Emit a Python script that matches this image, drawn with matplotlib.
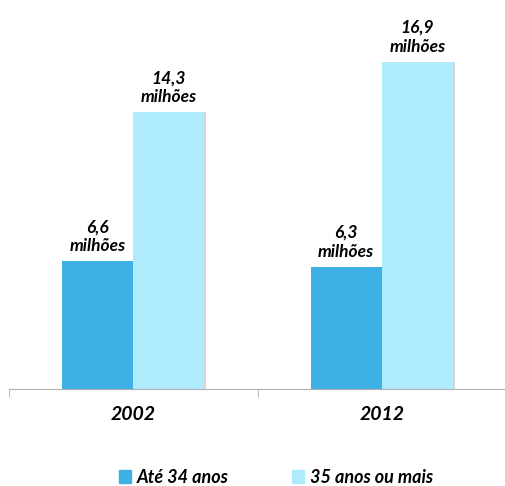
import numpy as np
import matplotlib.pyplot as plt
from matplotlib.patches import Patch

anos = ["2002", "2012"]
series = ["Até 34 anos", "35 anos ou mais"]
ate_34 = [6.6, 6.3]
mais_35 = [14.3, 16.9]
cores = ["#3DB0E5", "#AEEBFC"]

plt.rcParams['font.family'] = ['Lato', 'DejaVu Sans']
peso = "bold"

fig = plt.figure(figsize=(5.06, 4.86), dpi=100)
ax = fig.add_axes([9 / 506, 97 / 486, 497 / 506, 370 / 486])

x = np.arange(len(anos))
w = 0.286
for i, (vals, cor) in enumerate(zip([ate_34, mais_35], cores)):
    pos = x + (i - 0.5) * w
    # sombra leve à direita das barras
    ax.bar(pos + 0.008, vals, w, color="#d6d6d6", zorder=1)
    ax.bar(pos, vals, w, color=cor, zorder=2)
    for p, v in zip(pos, vals):
        ax.annotate(f"{v:.1f}".replace(".", ",") + "\nmilhões", (p, v),
                    xytext=(0, 5), textcoords="offset points",
                    ha="center", va="bottom", fontsize=12.5,
                    fontweight=peso, style="italic", linespacing=1.25)

ax.set_xlim(-0.5, -0.5 + 497 / 252)
ax.set_ylim(0, 370 / 19.35)
ax.set_xticks(x)
ax.set_xticklabels(anos, fontsize=14, fontweight=peso, style="italic")
ax.set_xticks([-0.5, 0.5, 1.5], minor=True)
ax.tick_params(axis="x", which="major", length=0, pad=12)
ax.tick_params(axis="x", which="minor", length=6, color="#b0b0b0")
ax.set_yticks([])
for s in ["top", "right", "left"]:
    ax.spines[s].set_visible(False)
ax.spines["bottom"].set_color("#b0b0b0")

handles = [Patch(color=c) for c in cores]
fig.legend(handles, series, loc="center", bbox_to_anchor=(0.545, 0.018),
           ncol=2, frameon=False, handlelength=0.7, handleheight=0.7,
           handletextpad=0.3, columnspacing=3.5,
           prop={"size": 13, "weight": peso, "style": "italic"})

fig.savefig("out.png", dpi=100)
